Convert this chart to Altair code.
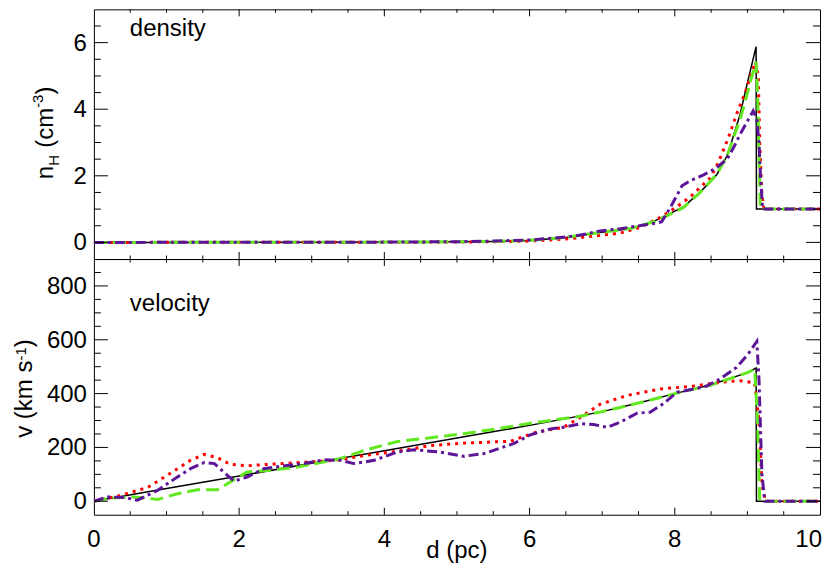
import altair as alt
import pandas as pd

# ---------------- data ----------------
# density panel (n_H, cm^-3)
d_n_black = [0, 1, 2, 3, 4, 4.5, 5, 5.5, 6, 6.5, 6.97, 7.4, 7.71, 7.94, 8.12, 8.35, 8.58, 8.72, 8.78, 8.9, 8.99, 9.12, 9.125, 10]
n_black = [0, 0, 0.001, 0.003, 0.008, 0.012, 0.018, 0.03, 0.06, 0.15, 0.3, 0.42, 0.63, 0.87, 1.07, 1.51, 2.04, 2.6, 3.0, 3.85, 4.7, 5.88, 1.0, 1.0]

d_n_red = [0, 2, 4, 5, 5.5, 6, 6.5, 6.93, 7.25, 7.52, 7.8, 8.03, 8.21, 8.35, 8.49, 8.6, 8.74, 8.85, 8.97, 9.06, 9.11, 9.15, 9.17, 9.2, 9.23, 10]
n_red = [0, 0.001, 0.005, 0.01, 0.02, 0.04, 0.1, 0.2, 0.28, 0.45, 0.75, 1.07, 1.36, 1.65, 1.94, 2.4, 3.15, 3.85, 4.5, 5.1, 5.42, 5.0, 3.0, 1.4, 1.0, 1.0]

d_n_green = [0, 2, 4, 5, 5.5, 6, 6.5, 6.97, 7.4, 7.71, 7.94, 8.12, 8.35, 8.58, 8.72, 8.9, 8.99, 9.05, 9.12, 9.14, 9.16, 9.18, 10]
n_green = [0, 0.001, 0.008, 0.018, 0.03, 0.06, 0.15, 0.3, 0.42, 0.62, 0.85, 1.05, 1.5, 2.05, 2.6, 3.7, 4.4, 4.9, 5.42, 4.5, 2.5, 1.0, 1.0]

d_n_purple = [0, 2, 4, 5, 5.5, 6, 6.5, 6.7, 6.97, 7.25, 7.57, 7.75, 7.82, 7.94, 8.1, 8.21, 8.39, 8.56, 8.72, 8.81, 8.9, 8.99, 9.08, 9.13, 9.16, 9.18, 9.21, 10]
n_purple = [0, 0.001, 0.008, 0.02, 0.04, 0.07, 0.16, 0.22, 0.34, 0.41, 0.52, 0.58, 0.62, 1.05, 1.7, 1.85, 2.02, 2.22, 2.5, 2.85, 3.25, 3.6, 3.95, 3.7, 3.0, 2.0, 1.0, 1.0]

# velocity panel (km s^-1)
d_v_black = [0, 1, 2, 3, 4, 5, 6, 6.5, 7, 7.5, 8, 8.5, 9, 9.12, 9.125, 10]
v_black = [0, 47, 94, 141, 188, 235, 282, 307, 333, 365, 400, 433, 478, 495, 0, 0]

d_v_red = [0, 0.37, 0.74, 1.1, 1.33, 1.52, 1.7, 1.88, 2.11, 2.39, 2.71, 3.17, 3.39, 3.72, 4.18, 4.64, 5.09, 5.74, 5.87, 6.1, 6.47, 6.7, 6.97, 7.34, 7.8, 8.26, 8.62, 8.9, 9.1, 9.16, 9.2, 9.25, 10]
v_red = [0, 22, 51, 112, 152, 174, 162, 137, 132, 137, 142, 149, 154, 170, 186, 207, 216, 223, 236, 257, 275, 312, 360, 393, 417, 428, 442, 448, 440, 300, 60, 0, 0]

d_v_green = [0, 0.23, 0.55, 0.88, 1.15, 1.43, 1.7, 1.88, 2.11, 2.43, 2.8, 3.39, 3.72, 4.18, 4.64, 5.09, 5.55, 6.01, 6.68, 7, 7.5, 8, 8.5, 9, 9.1, 9.14, 9.17, 10]
v_green = [0, 12, 16, 7, 28, 43, 43, 72, 109, 115, 127, 158, 189, 222, 236, 251, 269, 290, 315, 333, 365, 400, 432, 478, 490, 300, 0, 0]

d_v_purple = [0, 0.19, 0.42, 0.6, 0.88, 1.15, 1.33, 1.52, 1.66, 1.84, 1.93, 2.11, 2.34, 2.57, 2.89, 3.17, 3.4, 3.58, 3.86, 4.18, 4.41, 4.77, 5.09, 5.37, 5.78, 6.01, 6.29, 6.47, 6.7, 6.88, 7.07, 7.25, 7.48, 7.66, 7.84, 8.03, 8.26, 8.44, 8.62, 8.85, 9.01, 9.13, 9.16, 9.2, 9.24, 10]
v_purple = [0, 16, 14, 4, 41, 90, 121, 144, 140, 96, 75, 90, 121, 130, 140, 154, 152, 140, 152, 183, 191, 183, 167, 177, 214, 247, 269, 275, 288, 285, 275, 294, 327, 331, 362, 405, 417, 428, 454, 497, 547, 594, 450, 100, 0, 0]

# tick values / labels
x_labels = [0, 2, 4, 6, 8, 10]
x_major = [2, 4, 6, 8]
x_minor = [0.5, 1, 1.5, 2.5, 3, 3.5, 4.5, 5, 5.5, 6.5, 7, 7.5, 8.5, 9, 9.5]
n_major = [0, 2, 4, 6]
n_minor = [0.5, 1, 1.5, 2.5, 3, 3.5, 4.5, 5, 5.5, 6.5]
v_major = [0, 200, 400, 600, 800]
v_minor = [50, 100, 150, 250, 300, 350, 450, 500, 550, 650, 700, 750, 850]

# ---------------- style ----------------
FONT = "Liberation Sans"
FS = 24
FS_SMALL = 15
W = 727
HT = 250
HB = 256
RED = "#ff0000"
GREEN = "#62e81e"
PURPLE = "#5c1499"

xscale = alt.Scale(domain=[0, 10], nice=False, zero=False)
nscale = alt.Scale(domain=[-0.5, 7], nice=False, zero=False)
vscale = alt.Scale(domain=[-50, 900], nice=False, zero=False)

one = pd.DataFrame({"a": [0]})


def line(d, y, color, width, yscale, dash=None, interp="linear"):
    df = pd.DataFrame({"d": d, "y": y, "i": list(range(len(d)))})
    kw = dict(color=color, strokeWidth=width, interpolate=interp, clip=True)
    if dash is not None:
        kw["strokeDash"] = dash
    return alt.Chart(df).mark_line(**kw).encode(
        x=alt.X("d:Q", scale=xscale, axis=None),
        y=alt.Y("y:Q", scale=yscale, axis=None),
        order="i:Q",
    )


def yticks(vals, length, yscale, side):
    df = pd.DataFrame({"t": vals})
    x1, x2 = (0, length) if side == "left" else (W - length, W)
    return alt.Chart(df).mark_rule(color="black", strokeWidth=1).encode(
        y=alt.Y("t:Q", scale=yscale, axis=None), x=alt.value(x1), x2=alt.value(x2))


def xticks(vals, length, H, side):
    df = pd.DataFrame({"t": vals})
    y1, y2 = (0, length) if side == "top" else (H - length, H)
    return alt.Chart(df).mark_rule(color="black", strokeWidth=1).encode(
        x=alt.X("t:Q", scale=xscale, axis=None), y=alt.value(y1), y2=alt.value(y2))


def ylabels(vals, yscale):
    df = pd.DataFrame({"t": vals, "lab": [str(v) for v in vals]})
    return alt.Chart(df).mark_text(font=FONT, fontSize=FS, color="black", align="right",
                                   baseline="middle", dy=1).encode(
        y=alt.Y("t:Q", scale=yscale, axis=None), x=alt.value(-7), text="lab:N")


def xlabels(vals, H, align="center", dx=0):
    df = pd.DataFrame({"t": vals, "lab": [str(v) for v in vals]})
    return alt.Chart(df).mark_text(font=FONT, fontSize=FS, color="black", align=align,
                                   baseline="alphabetic", dx=dx).encode(
        x=alt.X("t:Q", scale=xscale, axis=None), y=alt.value(H + 32), text="lab:N")


def text(t, x, y, size=FS, angle=0, align="left"):
    return alt.Chart(one).mark_text(text=t, font=FONT, fontSize=size, color="black",
                                    align=align, baseline="alphabetic", angle=angle).encode(
        x=alt.value(x), y=alt.value(y))


def vtitle(pieces, x_base, y_start):
    """pieces: (text, size, shift, width_em) drawn bottom-to-top, rotated; empty text = gap."""
    layers = []
    y = y_start
    for t, size, shift, wem in pieces:
        if t:
            layers.append(text(t, x_base + shift, y, size=size, angle=270))
        y -= wem * size
    return layers


def ticks_layers(yvals_major, yvals_minor, yscale, H):
    return [
        yticks(yvals_major, 14, yscale, "left"), yticks(yvals_minor, 7, yscale, "left"),
        yticks(yvals_major, 14, yscale, "right"), yticks(yvals_minor, 7, yscale, "right"),
        xticks(x_major, 7, H, "top"), xticks(x_minor, 3.5, H, "top"),
        xticks(x_major, 7, H, "bottom"), xticks(x_minor, 3.5, H, "bottom"),
    ]


extent = alt.Chart(one).mark_rule(strokeOpacity=0, stroke="white").encode(
    x=alt.value(-85), x2=alt.value(-84), y=alt.value(0), y2=alt.value(1))

# ---------------- top panel: density ----------------
top_layers = [
    line(d_n_black, n_black, "black", 1.5, nscale),
    line(d_n_red, n_red, RED, 3, nscale, dash=[3, 5]),
    line(d_n_green, n_green, GREEN, 3, nscale, dash=[13, 6]),
    line(d_n_purple, n_purple, PURPLE, 3, nscale, dash=[10, 4, 3, 4]),
] + ticks_layers(n_major, n_minor, nscale, HT) + [
    ylabels(n_major, nscale),
    text("density", 36, 27),
    extent,
] + vtitle([("n", FS, 0, 0.556), ("H", FS_SMALL, 6, 0.722), ("", FS, 0, 0.3),
            ("(cm", FS, 0, 1.666), ("-3", FS_SMALL, -10, 0.889), (")", FS, 0, 0.333)], -41, 170)

top = alt.layer(*top_layers).properties(width=W, height=HT)

# ---------------- bottom panel: velocity ----------------
bot_layers = [
    line(d_v_black, v_black, "black", 1.5, vscale),
    line(d_v_red, v_red, RED, 3, vscale, dash=[3, 5]),
    line(d_v_green, v_green, GREEN, 3, vscale, dash=[13, 6]),
    line(d_v_purple, v_purple, PURPLE, 3, vscale, dash=[10, 4, 3, 4]),
] + ticks_layers(v_major, v_minor, vscale, HB) + [
    ylabels(v_major, vscale),
    xlabels(x_labels[:-1], HB),
    xlabels(x_labels[-1:], HB, align="right", dx=2),
    text("d (pc)", W / 2, HB + 43, align="center"),
    text("velocity", 36, 52),
    extent,
] + vtitle([("v (km s", FS, 0, 3.222), ("-1", FS_SMALL, -6, 0.889), (")", FS, 0, 0.333)], -62, 179)

bottom = alt.layer(*bot_layers).properties(width=W, height=HB)

chart = alt.vconcat(top, bottom, spacing=0, bounds="flush").properties(
    padding=0, background="white").configure_view(stroke="black", strokeWidth=1)

chart.save("out.html", embed_options={"renderer": "svg", "actions": False})
